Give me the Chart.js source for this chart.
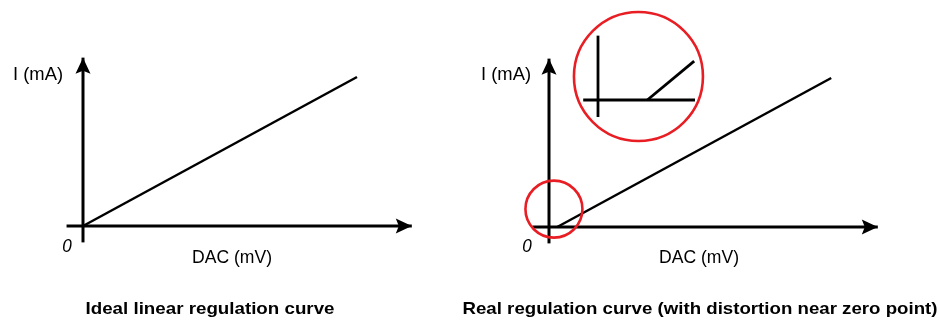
<!DOCTYPE html>
<html><head><meta charset="utf-8">
<script src="https://cdn.jsdelivr.net/npm/chart.js@4.4.1/dist/chart.umd.min.js"></script>
<style>
html,body{margin:0;padding:0;background:#fff;}
#wrap{position:relative;width:940px;height:320px;overflow:hidden;background:#fff;}
canvas{position:absolute;top:0;}
</style></head><body>
<div id="wrap"><canvas id="c1" width="450" height="320" style="left:0"></canvas><canvas id="c2" width="490" height="320" style="left:450px"></canvas></div>
<script>
// ---- data (schematic units: DAC in mV, I in mA) ----
const axisDac = [-6, 120];          // extent of the DAC axis arrow
const axisI = [-11, 113];           // extent of the I axis arrow
const idealDac = [0, 100];
const idealI = [0, 100];
const realDac = [3, 103];           // real curve starts after a dead zone
const realI = [0, 100];
const markDac = [1.8];              // region of interest near zero point
const markI = [12];
// magnified view of the zero-point region
const zoomAxisDac = [-0.9, 5.9];
const zoomAxisI = [-1.9, 7.2];
const zoomDac = [3, 5.85];
const zoomI = [0, 4.35];
const zoomRingDac = [2.46];
const zoomRingI = [2.63];
// texts
const titles = ['Ideal linear regulation curve', 'Real regulation curve (with distortion near zero point)'];
const labelI = 'I (mA)';
const labelDac = 'DAC (mV)';
const labelZero = '0';

const RED = 'rgb(232,30,36)';
const pts = (xs, ys) => xs.map((x, i) => ({x: x, y: ys[i]}));

function lineDs(data, width, extra) {
  return Object.assign({data: data, showLine: true, pointRadius: 0, pointHoverRadius: 0,
    borderColor: '#000', borderWidth: width, borderCapStyle: 'butt', fill: false, tension: 0}, extra || {});
}
function ringDs(data, r, extra) {
  return Object.assign({data: data, showLine: false, pointStyle: 'circle', pointRadius: r, pointHoverRadius: r,
    pointBorderColor: RED, pointBackgroundColor: 'rgba(0,0,0,0)', pointBorderWidth: 2.6, borderColor: RED, clip: false}, extra || {});
}

function fitText(ctx, text, cx, base, target, font, color) {
  ctx.save();
  ctx.font = font;
  const w = ctx.measureText(text).width;
  const sx = target / w;
  ctx.translate(cx, base);
  ctx.scale(sx, 1);
  ctx.fillStyle = color || '#000';
  ctx.textAlign = 'center';
  ctx.textBaseline = 'alphabetic';
  ctx.fillText(text, 0, 0);
  ctx.restore();
}

function schemPlugin(cfg) {
  return {
    id: 'schem',
    afterDatasetsDraw(chart) {
      const ctx = chart.ctx;
      // arrowheads
      chart.data.datasets.forEach((ds, i) => {
        if (!ds.arrow) return;
        const meta = chart.getDatasetMeta(i);
        const n = meta.data.length;
        const a = meta.data[n - 2], b = meta.data[n - 1];
        const ang = Math.atan2(b.y - a.y, b.x - a.x);
        const L = 16, W = 7.5, N = 3;
        ctx.save();
        ctx.translate(b.x, b.y);
        ctx.rotate(ang);
        ctx.beginPath();
        ctx.moveTo(0, 0);
        ctx.lineTo(-L, -W);
        ctx.lineTo(-L + N, 0);
        ctx.lineTo(-L, W);
        ctx.closePath();
        ctx.fillStyle = '#000';
        ctx.fill();
        ctx.restore();
      });
      // labels relative to axis origin
      const xs = chart.scales.x, ys = chart.scales.y;
      const ox = xs.getPixelForValue(0), oy = ys.getPixelForValue(0);
      const F = '"Liberation Sans Narrow", "Liberation Sans", Arial, sans-serif';
      fitText(ctx, labelI, ox + cfg.iLab[0], oy + cfg.iLab[1], 50, '18px ' + F);
      fitText(ctx, labelDac, ox + cfg.dacLab[0], oy + cfg.dacLab[1], 80, '18px ' + F);
      fitText(ctx, labelZero, ox + cfg.zeroLab[0], oy + cfg.zeroLab[1], 9.5, 'italic 18px ' + F);
      fitText(ctx, cfg.title, cfg.titleX, 314, cfg.titleW, 'bold 17px ' + F);
    }
  };
}

function baseOptions(xr, yr, extraScales) {
  const scales = {
    x: {type: 'linear', display: false, min: xr[0], max: xr[1]},
    y: {type: 'linear', display: false, min: yr[0], max: yr[1]}
  };
  Object.assign(scales, extraScales || {});
  return {
    responsive: false, animation: false, devicePixelRatio: 1, events: [],
    layout: {padding: 0, autoPadding: false},
    plugins: {legend: {display: false}, tooltip: {enabled: false}, title: {display: false}},
    scales: scales
  };
}

// Left: ideal curve
new Chart(document.getElementById('c1'), {
  type: 'scatter',
  data: {datasets: [
    lineDs(pts(idealDac, idealI), 2.5),
    lineDs(pts(axisDac, [0, 0]), 3, {arrow: true}),
    lineDs(pts([0, 0], axisI), 3, {arrow: true})
  ]},
  options: baseOptions([-83 / 2.74, 367 / 2.74], [-94 / 1.49, 226 / 1.49]),
  plugins: [schemPlugin({iLab: [-45, -146], dacLab: [149, 37], zeroLab: [-16, 26], title: titles[0], titleX: 210, titleW: 249})]
});

// Right: real curve with dead zone near zero
new Chart(document.getElementById('c2'), {
  type: 'scatter',
  data: {datasets: [
    ringDs(pts(markDac, markI), 28.5),
    ringDs(pts(zoomRingDac, zoomRingI), 64.5, {xAxisID: 'x2', yAxisID: 'y2'}),
    lineDs(pts(realDac, realI), 2.5),
    lineDs(pts(axisDac, [0, 0]), 3, {arrow: true}),
    lineDs(pts([0, 0], axisI), 3, {arrow: true}),
    lineDs(pts(zoomDac, zoomI), 2.8, {xAxisID: 'x2', yAxisID: 'y2'}),
    lineDs(pts(zoomAxisDac, [0, 0]), 2.8, {xAxisID: 'x2', yAxisID: 'y2'}),
    lineDs(pts([0, 0], zoomAxisI), 2.8, {xAxisID: 'x2', yAxisID: 'y2'})
  ]},
  options: baseOptions([-99 / 2.74, 391 / 2.74], [-93 / 1.49, 227 / 1.49], {
    x2: {type: 'linear', display: false, min: -148 / 16.44, max: 342 / 16.44},
    y2: {type: 'linear', display: false, min: -220 / 8.94, max: 100 / 8.94}
  }),
  plugins: [schemPlugin({iLab: [-43, -147], dacLab: [150, 36], zeroLab: [-22, 25], title: titles[1], titleX: 250, titleW: 475})]
});
</script>
</body></html>
